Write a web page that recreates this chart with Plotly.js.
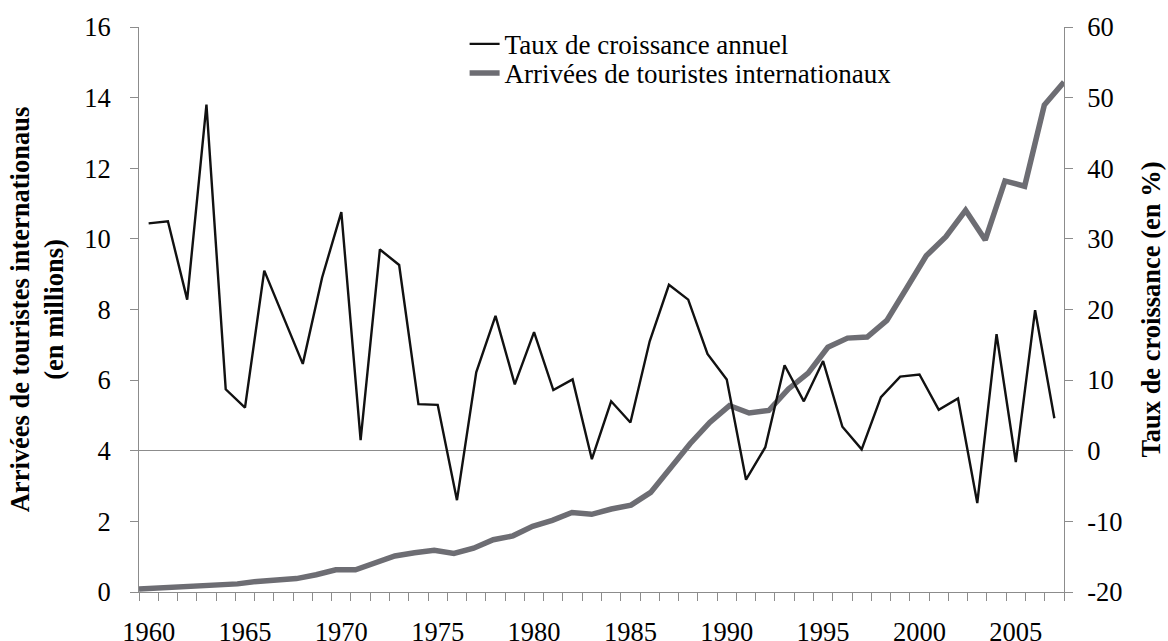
<!DOCTYPE html>
<html>
<head>
<meta charset="utf-8">
<script src="https://cdn.plot.ly/plotly-3.0.1.min.js"></script>
<style>html,body{margin:0;padding:0;background:#fff}#chart{width:1168px;height:641px}</style>
</head>
<body>
<div id="chart"></div>
<script>
const years = [1960,1961,1962,1963,1964,1965,1966,1967,1968,1969,1970,1971,1972,1973,1974,1975,1976,1977,1978,1979,1980,1981,1982,1983,1984,1985,1986,1987,1988,1989,1990,1991,1992,1993,1994,1995,1996,1997,1998,1999,2000,2001,2002,2003,2004,2005,2006,2007];
const growthRate = [32.2,32.5,21.4,49.0,8.7,6.1,25.5,19.0,12.3,24.5,33.8,1.5,28.5,26.3,6.6,6.5,-7.0,11.1,19.1,9.4,16.8,8.6,10.1,-1.2,7.0,4.0,15.5,23.5,21.4,13.7,10.1,-4.1,0.5,12.1,7.0,12.7,3.4,0.2,7.6,10.5,10.8,5.8,7.4,-7.4,16.5,-1.6,19.9,4.6];
const arrivals = [0.085,0.12,0.12,0.19,0.22,0.23,0.30,0.33,0.38,0.49,0.63,0.63,0.81,1.02,1.11,1.18,1.09,1.24,1.48,1.59,1.86,2.03,2.25,2.20,2.35,2.46,2.82,3.49,4.20,4.80,5.28,5.07,5.14,5.75,6.20,6.93,7.19,7.22,7.69,8.60,9.52,10.06,10.81,9.97,11.64,11.49,13.79,14.44];
const labelYears = [1960,1965,1970,1975,1980,1985,1990,1995,2000,2005];
const leftTicks = [0,2,4,6,8,10,12,14,16];
const rightTicks = [-20,-10,0,10,20,30,40,50,60];
const rightTickText = ['-20','-10','0','10','20','30','40','50','60'];

const serif = "'Liberation Serif', 'Times New Roman', serif";
const axisGray = '#8c8c8c';
const tickFont = {family: serif, size: 26.5, color: '#000'};
const legendFont = {family: serif, size: 27, color: '#000'};
const titleFont = {family: serif, size: 26.5, color: '#000'};

const traces = [
  {
    x: years, y: arrivals, xaxis: 'x', yaxis: 'y',
    type: 'scatter', mode: 'lines',
    name: 'Arrivées de touristes internationaux',
    line: {color: '#6d6d73', width: 5.5},
    legend: 'legend2'
  },
  {
    x: years, y: growthRate, xaxis: 'x2', yaxis: 'y2',
    type: 'scatter', mode: 'lines',
    name: 'Taux de croissance annuel',
    line: {color: '#111111', width: 2.4},
    legend: 'legend'
  }
];

const layout = {
  width: 1168, height: 641,
  margin: {l: 139, r: 104, t: 27, b: 49},
  paper_bgcolor: '#fff', plot_bgcolor: '#fff',
  font: {family: serif, size: 26.5, color: '#000'},
  showlegend: true,
  legend: {
    x: 0.352, y: 0.9694, xanchor: 'left', yanchor: 'middle',
    bgcolor: 'rgba(0,0,0,0)', font: legendFont, itemwidth: 30
  },
  legend2: {
    x: 0.352, y: 0.918, xanchor: 'left', yanchor: 'middle',
    bgcolor: 'rgba(0,0,0,0)', font: legendFont, itemwidth: 30
  },
  xaxis: {
    range: [1960, 2007], visible: false, fixedrange: true
  },
  xaxis2: {
    overlaying: 'x', anchor: 'y', side: 'bottom',
    range: [1959.5, 2007.5],
    tickmode: 'array', tickvals: labelYears, ticktext: labelYears.map(String),
    ticks: '', ticklabelstandoff: 16,
    minor: {tickmode: 'linear', tick0: 1959.5, dtick: 1, ticks: 'outside', ticklen: 8, tickcolor: axisGray, tickwidth: 1},
    showline: true, linecolor: axisGray, linewidth: 1,
    showgrid: false, zeroline: false,
    tickfont: tickFont
  },
  yaxis: {
    range: [0, 16], tickmode: 'array', tickvals: leftTicks,
    ticks: 'outside', ticklen: 8, tickcolor: axisGray, tickwidth: 1,
    ticklabelstandoff: 14,
    showline: true, linecolor: axisGray, linewidth: 1, mirror: 'ticks',
    showgrid: false, zeroline: false,
    tickfont: tickFont,
    title: {text: '<b>Arrivées de touristes internationaus<br>(en millions)</b>', font: titleFont, standoff: 12}
  },
  yaxis2: {
    overlaying: 'y', anchor: 'x', side: 'right',
    range: [-20, 60], tickmode: 'array', tickvals: rightTicks, ticktext: rightTickText,
    ticks: 'outside', ticklen: 17, tickcolor: 'rgba(0,0,0,0)',
    showline: false, showgrid: false,
    zeroline: true, zerolinecolor: axisGray, zerolinewidth: 1,
    tickfont: tickFont,
    title: {text: '<b>Taux de croissance (en %)</b>', font: titleFont, standoff: 19}
  }
};

Plotly.newPlot('chart', traces, layout, {displayModeBar: false, staticPlot: true});
</script>
</body>
</html>
